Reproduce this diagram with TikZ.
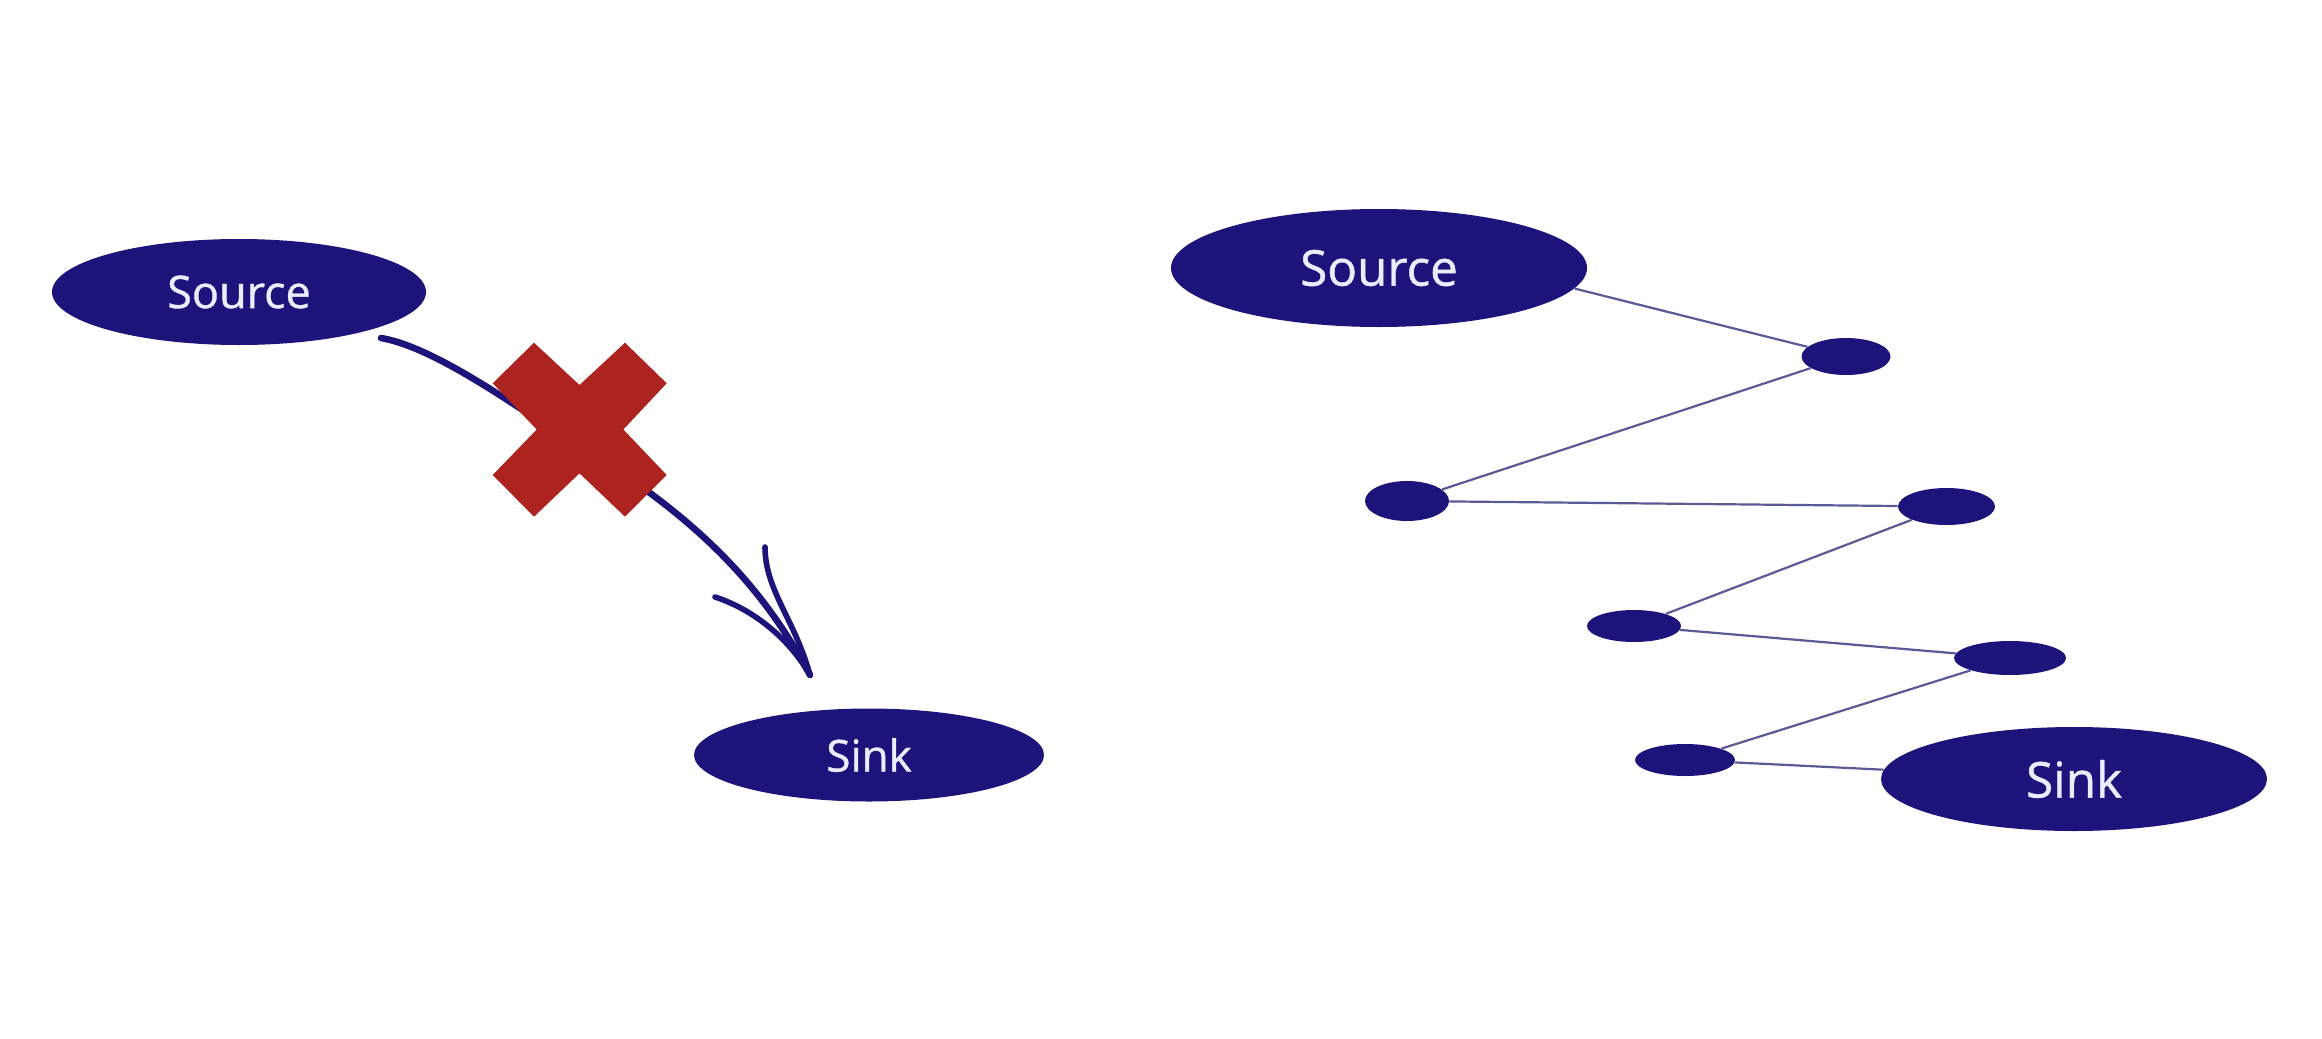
\documentclass[tikz,border=0pt]{standalone}
\usepackage{fontspec}
\setmainfont{Open Sans}[FakeBold=0.9]
\usetikzlibrary{shapes.geometric}
\definecolor{navy}{RGB}{28,20,122}
\definecolor{edgec}{RGB}{92,90,150}
\definecolor{xred}{RGB}{173,35,32}
\definecolor{txt}{RGB}{236,236,255}
\tikzset{
  blob/.style={ellipse, fill=navy, draw=none, inner sep=0pt, text=txt},
  link/.style={draw=edgec, line width=1.1pt},
  pen/.style={draw=navy, line width=3.3pt, line cap=round, line join=round}
}
\begin{document}
\begin{tikzpicture}[x=0.5pt,y=-0.5pt]
\useasboundingbox[fill=white] (0,0) rectangle (2322,1038);
% ---------- left ----------
\node[blob, minimum width=187pt, minimum height=53pt, font=\fontsize{22.5}{27}\selectfont] (lsrc) at (239,292) {Source};
\node[blob, minimum width=175pt, minimum height=46.5pt, font=\fontsize{22}{27}\selectfont] (lsink) at (869,755) {Sink};
\coordinate (a0) at (381,338);
\coordinate (a1) at (810,675);
\draw[pen] (a0) .. controls (450,350) and (560,440) .. (650,493)
  .. controls (720,545) and (770,600) .. (a1);
\draw[pen, line width=2.8pt] (715,597) .. controls (755,610) and (790,640) .. (a1);
\draw[pen, line width=2.8pt] (765,547) .. controls (765,590) and (795,620) .. (a1);
\fill[xred] (492.7,383.3) -- (534,342.7) -- (579.5,385) -- (625,342.7) -- (666.7,383.3)
  -- (623.3,429.5) -- (666.7,475) -- (625,516.7) -- (579.5,473.3) -- (534,516.7)
  -- (492.7,475) -- (536.7,429.5) -- cycle;
% ---------- right ----------
\node[blob, minimum width=208pt, minimum height=59pt, font=\fontsize{24.7}{30}\selectfont] (rsrc) at (1379,268) {Source};
\node[blob, minimum width=44.5pt, minimum height=18.5pt] (n1) at (1846,356.5) {};
\node[blob, minimum width=42pt, minimum height=20pt] (n2) at (1407,501) {};
\node[blob, minimum width=48.5pt, minimum height=18.5pt] (n3) at (1946.5,506.5) {};
\node[blob, minimum width=47pt, minimum height=16pt] (n4) at (1634,626) {};
\node[blob, minimum width=56pt, minimum height=17pt] (n5) at (2010,658) {};
\node[blob, minimum width=50pt, minimum height=16pt] (n6) at (1685,760) {};
\node[blob, minimum width=193pt, minimum height=52pt, font=\fontsize{24.7}{30}\selectfont] (rsink) at (2074,779) {Sink};
\draw[link] (rsrc.-6) -- (n1);
\draw[link] (n1) -- (n2);
\draw[link] (n2) -- (n3);
\draw[link] (n3) -- (n4);
\draw[link] (n4) -- (n5);
\draw[link] (n5) -- (n6);
\draw[link] (n6) -- (rsink);
\end{tikzpicture}
\end{document}
